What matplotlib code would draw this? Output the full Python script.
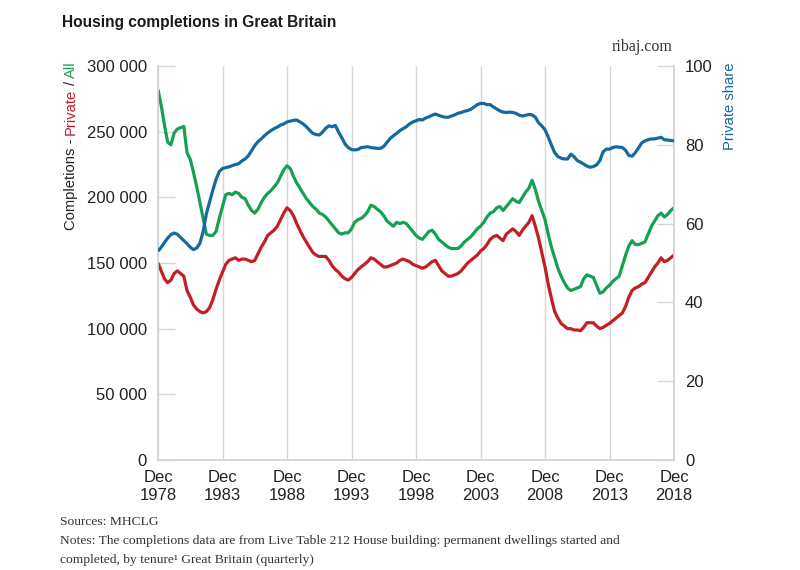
import matplotlib
matplotlib.use('Agg')
import matplotlib.pyplot as plt
from matplotlib.ticker import FuncFormatter
import numpy as np

# Quarterly series, Dec 1978 .. Dec 2018 (rolling annual totals, thousands)
all_k = [282,
         270, 255, 242, 240,   # 1979
         249, 252, 253, 254,   # 1980
         234, 229, 219, 208,   # 1981
         196, 184, 172, 171,   # 1982
         171, 174, 184, 193,   # 1983
         202, 203, 202, 204,   # 1984
         203, 200, 199, 194,   # 1985
         190, 188, 191, 196,   # 1986
         200, 203, 205, 208,   # 1987
         211, 216, 221, 224,   # 1988
         222, 216, 211, 207,   # 1989
         203, 199, 196, 193,   # 1990
         191, 188, 187, 185,   # 1991
         182, 179, 176, 173,   # 1992
         172, 173, 173, 176,   # 1993
         181, 183, 184, 186,   # 1994
         189, 194, 193, 191,   # 1995
         189, 186, 182, 180,   # 1996
         178, 181, 180, 181,   # 1997
         180, 177, 174, 171,   # 1998
         169, 168, 171, 174,   # 1999
         175, 172, 168, 166,   # 2000
         164, 162, 161, 161,   # 2001
         161, 163, 166, 168,   # 2002
         170, 173, 176, 178,   # 2003
         181, 185, 188, 189,   # 2004
         192, 193, 190, 193,   # 2005
         196, 199, 197, 196,   # 2006
         200, 204, 207, 213,   # 2007
         206, 197, 190, 183,   # 2008
         172, 162, 154, 146,   # 2009
         140, 135, 131, 129,   # 2010
         130, 131, 132, 138,   # 2011
         141, 140, 139, 133,   # 2012
         127, 128, 131, 133,   # 2013
         136, 138, 140, 148,   # 2014
         156, 163, 167, 164,   # 2015
         164, 165, 166, 172,   # 2016
         178, 182, 186, 188,   # 2017
         185, 187, 190, 192]   # 2018

private_k = [150,
             144, 138, 135, 137,   # 1979
             142, 144, 142, 140,   # 1980
             129, 124, 118, 115,   # 1981
             113, 112, 113, 116,   # 1982
             122, 130, 137, 143,   # 1983
             149, 152, 153, 154,   # 1984
             152, 153, 153, 152,   # 1985
             151, 152, 157, 162,   # 1986
             166, 171, 173, 175,   # 1987
             178, 183, 188, 192,   # 1988
             190, 186, 180, 175,   # 1989
             170, 166, 162, 158,   # 1990
             156, 155, 155, 155,   # 1991
             152, 148, 145, 143,   # 1992
             140, 138, 137, 139,   # 1993
             142, 145, 147, 149,   # 1994
             151, 154, 153, 151,   # 1995
             149, 147, 147, 148,   # 1996
             149, 150, 152, 153,   # 1997
             152, 151, 149, 148,   # 1998
             147, 146, 147, 149,   # 1999
             151, 152, 148, 144,   # 2000
             142, 140, 140, 141,   # 2001
             142, 144, 147, 150,   # 2002
             152, 154, 156, 159,   # 2003
             161, 164, 168, 170,   # 2004
             171, 169, 167, 172,   # 2005
             174, 176, 174, 171,   # 2006
             175, 178, 181, 186,   # 2007
             178, 169, 158, 147,   # 2008
             134, 123, 113, 108,   # 2009
             104, 102, 100, 100,   # 2010
             99, 99, 98.5, 101,    # 2011
             104.5, 104.5, 104.5, 102,  # 2012
             100, 101, 102.5, 104,  # 2013
             106, 108, 110, 112,   # 2014
             117, 124, 129, 131,   # 2015
             132, 134, 135, 139,   # 2016
             143, 147, 150, 154,   # 2017
             151, 152, 154, 156]   # 2018

share = [53.0,
         54.0, 55.2, 56.3, 57.2,   # 1979
         57.6, 57.3, 56.5, 55.7,   # 1980
         54.9, 54.0, 53.4, 53.8,   # 1981
         55.0, 58.0, 62.5, 65.5,   # 1982
         68.5, 71.2, 73.2, 74.0,   # 1983
         74.2, 74.4, 74.7, 75.0,   # 1984
         75.2, 75.9, 76.4, 77.2,   # 1985
         78.5, 79.8, 80.8, 81.5,   # 1986
         82.3, 83.0, 83.6, 84.1,   # 1987
         84.5, 85.0, 85.3, 85.8,   # 1988
         86.0, 86.2, 86.3, 85.8,   # 1989
         85.3, 84.6, 83.7, 82.9,   # 1990
         82.6, 82.5, 83.2, 84.2,   # 1991
         84.8, 84.6, 84.9, 83.2,   # 1992
         81.8, 80.2, 79.3, 78.8,   # 1993
         78.7, 78.8, 79.3, 79.4,   # 1994
         79.5, 79.3, 79.2, 79.1,   # 1995
         79.1, 79.6, 80.6, 81.6,   # 1996
         82.3, 82.9, 83.6, 84.1,   # 1997
         84.6, 85.3, 85.8, 86.1,   # 1998
         86.4, 86.3, 86.8, 87.1,   # 1999
         87.5, 87.8, 87.5, 87.2,   # 2000
         87.0, 87.0, 87.3, 87.6,   # 2001
         88.0, 88.2, 88.5, 88.7,   # 2002
         89.0, 89.6, 90.2, 90.5,   # 2003
         90.5, 90.2, 90.2, 89.6,   # 2004
         89.1, 88.6, 88.3, 88.2,   # 2005
         88.3, 88.2, 88.0, 87.5,   # 2006
         87.3, 87.5, 87.7, 87.6,   # 2007
         87.0, 85.6, 84.8, 83.8,   # 2008
         82.0, 79.9, 78.0, 77.0,   # 2009
         76.6, 76.4, 76.4, 77.6,   # 2010
         77.0, 76.0, 75.6, 75.1,   # 2011
         74.6, 74.3, 74.5, 74.9,   # 2012
         76.0, 78.2, 78.9, 78.9,   # 2013
         79.3, 79.5, 79.4, 79.3,   # 2014
         78.6, 77.3, 77.1, 78.0,   # 2015
         79.2, 80.5, 81.0, 81.3,   # 2016
         81.5, 81.5, 81.7, 81.9,   # 2017
         81.3, 81.2, 81.1, 81.0]   # 2018

tick_years = [1978, 1983, 1988, 1993, 1998, 2003, 2008, 2013, 2018]

# quarter positions as decimal years (Dec 1978 = 1978.0)
x = 1978 + np.arange(len(all_k)) / 4

GREEN = '#16a052'
RED = '#c41e25'
BLUE = '#15699e'
GRID = '#d6d6d6'
TXT = '#222222'

plt.rcParams['font.family'] = ['Liberation Sans', 'DejaVu Sans']

fig = plt.figure(figsize=(8, 5.7), dpi=100)
ax = fig.add_axes([158 / 800, 1 - 460 / 570, (674 - 158) / 800, (460 - 66) / 570])
ax2 = ax.twinx()

ax.plot(x, np.array(all_k) * 1000, color=GREEN, lw=2.3, solid_capstyle='butt', zorder=3)
ax.plot(x, np.array(private_k) * 1000, color=RED, lw=2.3, solid_capstyle='butt', zorder=3)
ax2.plot(x, share, color=BLUE, lw=2.3, solid_capstyle='butt', zorder=3)

ax.set_xlim(1978, 2018)
ax.set_ylim(0, 300000)
ax2.set_ylim(0, 100)

ax.set_xticks(tick_years)
ax.set_xticklabels(['Dec\n%d' % y for y in tick_years], linespacing=1.25)
ax.set_yticks(np.arange(0, 300001, 50000))
ax.yaxis.set_major_formatter(FuncFormatter(lambda v, p: f'{int(v):,}'.replace(',', ' ')))
ax2.set_yticks(np.arange(0, 101, 20))

ax.grid(axis='x', color=GRID, lw=1)
ax.set_axisbelow(True)

for a in (ax, ax2):
    for s in a.spines.values():
        s.set_color(GRID)
        s.set_linewidth(1.2)
    a.spines['top'].set_visible(False)
ax.tick_params(axis='y', direction='in', length=12, width=1, color=GRID,
               labelsize=12, labelcolor=TXT, pad=8)
ax2.tick_params(axis='y', direction='in', length=12, width=1, color=GRID,
                labelsize=12, labelcolor=TXT, pad=8)
ax.tick_params(axis='x', length=0, labelsize=12, labelcolor=TXT, pad=7)

# titles
fig.text(62 / 800, 1 - 22 / 570, 'Housing completions in Great Britain',
         fontsize=11.2, fontweight='bold', color='#1a1a1a', va='center', ha='left')
fig.text(673 / 800, 1 - 47 / 570, 'ribaj.com', fontsize=11.5, color='#333333',
         family='Liberation Serif', ha='right', va='center')

# multi-coloured left axis label, stacked from the top down
pieces = [('Completions -', TXT), ('Private', RED), ('/', TXT), ('All', GREEN)]
fig.canvas.draw()
r = fig.canvas.get_renderer()
ytop = 1 - 61 / 570
gap = 3.5 / 570
for s, c in reversed(pieces):
    t = fig.text(71 / 800, ytop, s, color=c, rotation=90, fontsize=10.6,
                 ha='center', va='top')
    bb = t.get_window_extent(r)
    ytop -= bb.height / fig.bbox.height + gap

fig.text(730 / 800, 1 - 62 / 570, 'Private share', color=BLUE, rotation=90,
         fontsize=10.6, ha='center', va='top')

# footer
foot = dict(family='Liberation Serif', fontsize=9.7, color='#333333', ha='left', va='center')
fig.text(60 / 800, 1 - 522 / 570, 'Sources: MHCLG', **foot)
fig.text(60 / 800, 1 - 541 / 570,
         'Notes: The completions data are from Live Table 212 House building: permanent dwellings started and', **foot)
fig.text(60 / 800, 1 - 560 / 570, 'completed, by tenure\u00b9 Great Britain (quarterly)', **foot)

fig.savefig('out.png', dpi=100)
